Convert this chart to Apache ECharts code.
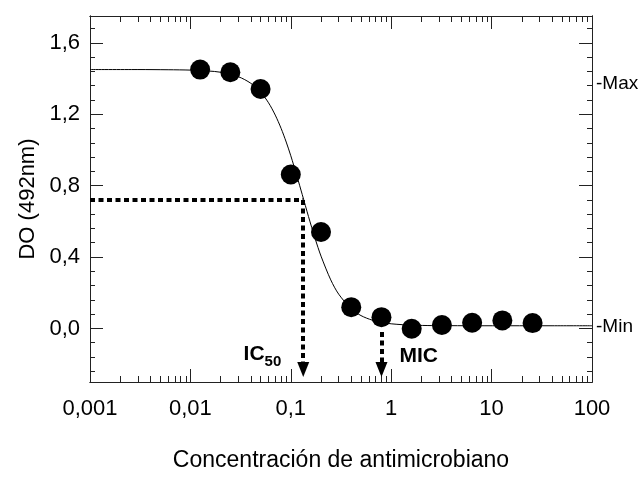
<!DOCTYPE html>
<html>
<head>
<meta charset="utf-8">
<script src="https://cdn.jsdelivr.net/npm/echarts@6/dist/echarts.min.js"></script>
<style>
  html, body { margin: 0; padding: 0; background: #fff; }
  #chart { width: 644px; height: 477px; }
</style>
</head>
<body>
<div id="chart"></div>
<script>
// Dose-response: optical density vs antimicrobial concentration (two-fold dilutions)
const concentrations = [0.0125, 0.025, 0.05, 0.1, 0.2, 0.4, 0.8, 1.6, 3.2, 6.4, 12.8, 25.6];
const absorbance = [1.45, 1.435, 1.341, 0.862, 0.54, 0.119, 0.063, -0.002, 0.019, 0.032, 0.045, 0.03];

// Fitted sigmoid curve, sampled along the concentration axis
const curveX = [0.001, 0.003, 0.006, 0.01, 0.015, 0.02, 0.03, 0.04, 0.05, 0.06, 0.07, 0.08, 0.09, 0.1,
                0.115, 0.13, 0.15, 0.175, 0.2, 0.25, 0.3, 0.4, 0.5, 0.65, 0.8, 1, 1.3, 1.7, 2.5, 4, 7, 15, 40, 100];
const curveY = [1.45, 1.45, 1.449, 1.447, 1.442, 1.435, 1.41, 1.373, 1.324, 1.264, 1.195, 1.121, 1.044, 0.967,
                0.854, 0.75, 0.627, 0.502, 0.405, 0.272, 0.192, 0.11, 0.072, 0.046, 0.034, 0.026, 0.021, 0.018, 0.016, 0.0155, 0.015, 0.015, 0.015, 0.015];

// IC50 and MIC markers
const ic50 = 0.133;
const ic50Level = 0.72;
const mic = 0.8;
const micTop = -0.02;
const arrowTip = -0.23;
const annotationLevel = -0.157;

// Axis ticks and labels
const xTickValues = [0.001, 0.01, 0.1, 1, 10, 100];
const xTickLabels = ['0,001', '0,01', '0,1', '1', '10', '100'];
const xMinorValues = [];
[0.001, 0.01, 0.1, 1, 10].forEach(function (d) {
  for (let k = 2; k <= 9; k++) xMinorValues.push(+(d * k).toPrecision(3));
});
const yTickValues = [0, 0.4, 0.8, 1.2, 1.6];
const yTickLabels = ['0,0', '0,4', '0,8', '1,2', '1,6'];
const yMinorValues = [-0.24, -0.16, -0.08, 0.08, 0.16, 0.24, 0.32, 0.48, 0.56, 0.64, 0.72,
                      0.88, 0.96, 1.04, 1.12, 1.28, 1.36, 1.44, 1.52, 1.68];
const levelValues = [1.37, 0.012];
const levelLabels = ['-Max', '-Min'];

const FONT = '"Liberation Sans", Arial, sans-serif';
const X_MIN = 0.001, X_MAX = 100, Y_MIN = -0.3, Y_MAX = 1.75;
const axisColor = '#222';

function xAxisDef(position, ticks, len, labels) {
  return {
    type: 'log', logBase: 10, min: X_MIN, max: X_MAX, position: position,
    axisLine: { show: true, onZero: false, lineStyle: { color: axisColor, width: 1 } },
    axisTick: { show: true, inside: true, length: len, customValues: ticks, lineStyle: { color: axisColor, width: 1 } },
    axisLabel: labels ? {
      show: true, customValues: xTickValues, margin: 16, color: '#000', fontSize: 22, fontFamily: FONT,
      formatter: function (v) {
        const i = xTickValues.findIndex(function (t) { return Math.abs(Math.log10(t) - Math.log10(v)) < 1e-6; });
        return i >= 0 ? xTickLabels[i] : '';
      }
    } : { show: false },
    splitLine: { show: false }
  };
}

function yAxisDef(position, ticks, len, labelMode) {
  const def = {
    type: 'value', min: Y_MIN, max: Y_MAX, position: position,
    axisLine: { show: true, lineStyle: { color: axisColor, width: 1 } },
    axisTick: { show: true, inside: true, length: len, customValues: ticks, lineStyle: { color: axisColor, width: 1 } },
    axisLabel: { show: false },
    splitLine: { show: false }
  };
  if (labelMode === 'values') {
    def.axisLabel = {
      show: true, customValues: yTickValues, margin: 10, color: '#000', fontSize: 22, fontFamily: FONT,
      formatter: function (v) {
        const i = yTickValues.findIndex(function (t) { return Math.abs(t - v) < 1e-6; });
        return i >= 0 ? yTickLabels[i] : '';
      }
    };
    def.name = 'DO (492nm)';
    def.nameLocation = 'middle';
    def.nameGap = 50;
    def.nameTextStyle = { color: '#000', fontSize: 22, fontFamily: FONT };
  } else if (labelMode === 'levels') {
    def.axisLabel = {
      show: true, customValues: levelValues, margin: 4, color: '#000', fontSize: 19, fontFamily: FONT,
      formatter: function (v) {
        const i = levelValues.findIndex(function (t) { return Math.abs(t - v) < 1e-6; });
        return i >= 0 ? levelLabels[i] : '';
      }
    };
  }
  return def;
}

const xBottom = xAxisDef('bottom', xTickValues, 13, true);
xBottom.name = 'Concentración de antimicrobiano';
xBottom.nameLocation = 'middle';
xBottom.nameGap = 67;
xBottom.nameTextStyle = { color: '#000', fontSize: 23, fontFamily: FONT };

const dottedStyle = { color: '#000', width: 4, type: [5, 3.5] };

const chart = echarts.init(document.getElementById('chart'), null, { renderer: 'canvas' });
chart.setOption({
  animation: false,
  backgroundColor: '#fff',
  grid: { left: 90, right: 52, top: 16, bottom: 95, containLabel: false },
  xAxis: [
    xBottom,
    xAxisDef('bottom', xMinorValues, 6, false),
    xAxisDef('top', xTickValues, 13, false),
    xAxisDef('top', xMinorValues, 6, false)
  ],
  yAxis: [
    yAxisDef('left', yTickValues, 13, 'values'),
    yAxisDef('left', yMinorValues, 5, null),
    yAxisDef('right', yTickValues, 13, 'levels'),
    yAxisDef('right', yMinorValues, 5, null)
  ],
  series: [
    {
      type: 'line', name: 'ajuste', xAxisIndex: 0, yAxisIndex: 0,
      data: curveX.map(function (x, i) { return [x, curveY[i]]; }),
      smooth: 0.3, showSymbol: false, symbol: 'none',
      lineStyle: { color: '#000', width: 1 }, z: 3
    },
    {
      type: 'scatter', name: 'DO', xAxisIndex: 0, yAxisIndex: 0,
      data: concentrations.map(function (x, i) { return [x, absorbance[i]]; }),
      symbol: 'circle', symbolSize: 20,
      itemStyle: { color: '#000', opacity: 1 }, z: 4
    },
    {
      type: 'line', name: 'IC50', xAxisIndex: 0, yAxisIndex: 0,
      data: [[X_MIN, ic50Level], [ic50, ic50Level]],
      showSymbol: false, symbol: 'none', lineStyle: dottedStyle, z: 2,
      markLine: {
        silent: true, symbol: ['none', 'triangle'], symbolSize: [12, 15],
        label: { show: false },
        lineStyle: dottedStyle,
        data: [[{ coord: [ic50, ic50Level] }, { coord: [ic50, arrowTip] }]]
      }
    },
    {
      type: 'line', name: 'MIC', xAxisIndex: 0, yAxisIndex: 0,
      data: [],
      showSymbol: false, symbol: 'none', lineStyle: dottedStyle, z: 2,
      markLine: {
        silent: true, symbol: ['none', 'triangle'], symbolSize: [12, 15],
        label: { show: false },
        lineStyle: dottedStyle,
        data: [[{ coord: [mic, micTop] }, { coord: [mic, arrowTip] }]]
      }
    },
    {
      type: 'scatter', name: 'etiquetas', xAxisIndex: 0, yAxisIndex: 0,
      symbolSize: 0, silent: true, z: 5,
      itemStyle: { color: '#000', opacity: 1 },
      data: [
        {
          value: [ic50, annotationLevel],
          label: {
            show: true, position: 'left', distance: 22,
            formatter: '{a|IC}{b|50}',
            rich: {
              a: { fontSize: 21, fontWeight: 'bold', fontFamily: FONT, color: '#000', lineHeight: 25, verticalAlign: 'top' },
              b: { fontSize: 15, fontWeight: 'bold', fontFamily: FONT, color: '#000', lineHeight: 25, verticalAlign: 'bottom' }
            }
          }
        },
        {
          value: [mic, annotationLevel],
          label: {
            show: true, position: 'right', distance: 18, formatter: 'MIC',
            fontSize: 21, fontWeight: 'bold', fontFamily: FONT, color: '#000'
          }
        }
      ]
    }
  ]
});
</script>
</body>
</html>
